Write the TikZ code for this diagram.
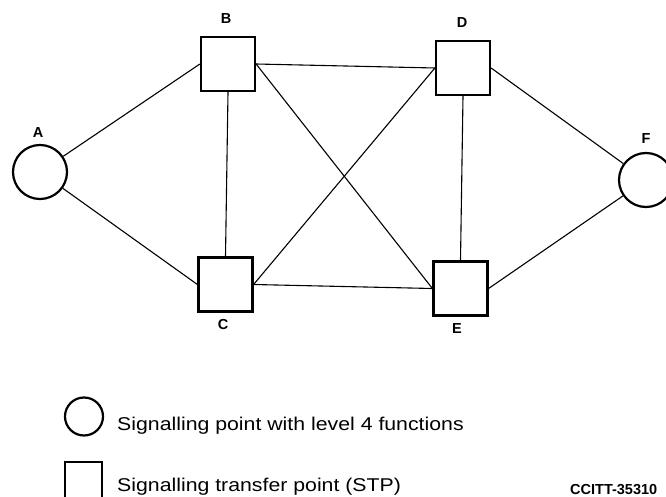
\documentclass[tikz,border=0pt]{standalone}
\usepackage{fontspec}
\setmainfont{Liberation Sans}
\begin{document}
\begin{tikzpicture}[x=1pt, y=-1pt,
  stp/.style={draw, line width=2.2pt, minimum width=54pt, minimum height=54pt, inner sep=0pt},
  spt/.style={draw, circle, line width=2.2pt, minimum size=54pt, inner sep=0pt},
  link/.style={line width=1.1pt},
  lbl/.style={font=\fontsize{14.5}{15}\selectfont\bfseries, inner sep=0pt},
  key/.style={font=\fontsize{18.5}{20}\selectfont, inner sep=0pt, anchor=base west}]
\clip (0,0) rectangle (666,497);
\fill[white] (0,0) rectangle (666,497);
% signalling points and STPs
\node[spt] (A) at (40,172) {};
\node[stp] (B) at (228,64) {};
\node[stp] (C) at (225.5,284.5) {};
\node[stp] (D) at (463,68) {};
\node[stp] (E) at (460.5,288.5) {};
\node[spt] (F) at (646,180) {};
% names
\node[lbl] (nA) at (38,133) {A};
\node[lbl] (nB) at (226,19) {B};
\node[lbl] (nC) at (223,325) {C};
\node[lbl] (nD) at (462,23) {D};
\node[lbl] (nE) at (457,329) {E};
\node[lbl] (nF) at (646,139) {F};

% links
\draw[link] (A) -- (B.west);
\draw[link] (A) -- (C.west);
\draw[link] (B.south) -- (C.north);
\draw[link] (D.south) -- (E.north);
\draw[link] (B.east) -- (D.west);
\draw[link] (C.east) -- (E.west);
\draw[link] (B.east) -- (E.west);
\draw[link] (C.east) -- (D.west);
\draw[link] (D.east) -- (F);
\draw[link] (E.east) -- (F);

% legend
\node[spt, minimum size=38pt] (kSP) at (84,416.5) {};
\node[key] (tSP) at (117,430) {\scalebox{1.15}[1]{Signalling point with level 4 functions}};
\node[stp, minimum width=37pt, minimum height=50pt, anchor=north] (kSTP) at (83.5,461) {};
\node[key] (tSTP) at (117,491) {\scalebox{1.15}[1]{Signalling transfer point (STP)}};
\node[anchor=base west, inner sep=0pt, font=\fontsize{14.5}{15}\selectfont\bfseries] (ref) at (570,494) {CCITT-35310};
\end{tikzpicture}
\end{document}
